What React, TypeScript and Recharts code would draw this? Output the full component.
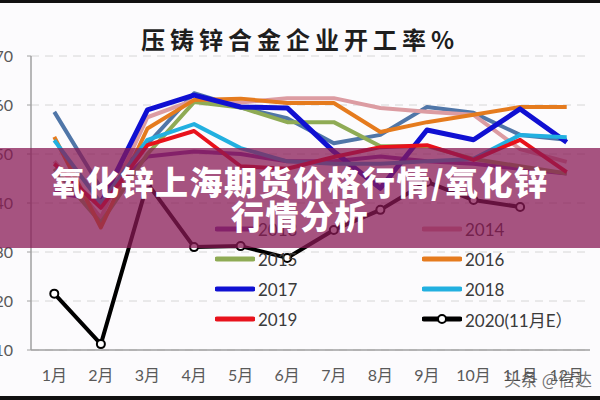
import { CartesianGrid, Line, LineChart, XAxis, YAxis } from "recharts";

const months = ["1月", "2月", "3月", "4月", "5月", "6月", "7月", "8月", "9月", "10月", "11月", "12月"];
const yTicks = [10, 20, 30, 40, 50, 60, 70];
const bandEdges = [1.5, 2.5, 3.5, 4.5, 5.5, 6.5, 7.5, 8.5, 9.5, 10.5, 11.5, 12.5];

const s2012 = [58.6, 43, 52, 62.4, 59.5, 57.3, 52.2, 53.9, 59.6, 58.4, 53.9, 52.9];
const s2013 = [42.2, 40.5, 49.5, 50.5, 50, 48.5, 48.5, 49.5, 48.5, 48, 47, 46];
const s2014 = [48.5, 37, 57.5, 61, 60.5, 61.4, 61.4, 59.4, 58.6, 58, 51, 48.4];
const s2015 = [47, 36, 50, 60.6, 59.5, 56.5, 56.5, 51.6, 51.6, 49, 47.5, 46];
const s2016 = [53.5, 35, 55.2, 61, 61.3, 60.4, 60.4, 54.5, 56.5, 58, 59.6, 59.6];
const s2017 = [null, 40, 59, 62, 59.6, 59.4, 50.5, 43, 54.9, 52.9, 59.2, 52.4];
const s2018 = [52.8, 40, 52.9, 56.1, 51.2, 48.5, 48, 48, 48.5, 49, 53.9, 53.4];
const s2019 = [48, 39, 51.8, 54.7, 47.5, 47, 49.4, 51.4, 51.8, 48.8, 52.9, 46.3];
const s2020 = [21.5, 11.2, 44, 31, 31.2, 28.8, 34.5, 38.6, 44.3, 40.6, 39.2, null];

const series = [
  { key: "y2012", name: "2012", values: s2012, color: "#5076a8", width: 4, legend: false },
  { key: "y2013", name: "2013", values: s2013, color: "#7a3aa8", width: 4, legend: true },
  { key: "y2014", name: "2014", values: s2014, color: "#dc9ca2", width: 4, legend: true },
  { key: "y2015", name: "2015", values: s2015, color: "#8fab55", width: 4, legend: true },
  { key: "y2016", name: "2016", values: s2016, color: "#e57b1e", width: 4, legend: true },
  { key: "y2017", name: "2017", values: s2017, color: "#1010d2", width: 5, legend: true },
  { key: "y2018", name: "2018", values: s2018, color: "#22b0e0", width: 4, legend: true },
  { key: "y2019", name: "2019", values: s2019, color: "#e8121c", width: 4, legend: true },
  { key: "y2020", name: "2020(11月E）", values: s2020, color: "#000000", width: 4, legend: true },
];

const data = months.map((label, i) => {
  const row: Record<string, number | string | null> = { m: i + 1, label };
  series.forEach((s) => {
    row[s.key] = s.values[i];
  });
  return row;
});

const axisFont = "Lato, 'Noto Sans CJK SC', sans-serif";

export default function App() {
  const legendItems = series.filter((s) => s.legend);
  return (
    <div style={{ position: "relative", width: 600, height: 400, background: "#fcfbfd", overflow: "hidden" }}>
      <style>{`body{margin:0}`}</style>
      <div style={{ position: "absolute", left: 0, top: 0, width: 600, height: 3, background: "#111" }} />
      <div
        style={{
          position: "absolute",
          top: 21,
          width: 600,
          textAlign: "center",
          fontFamily: "'Noto Sans CJK SC', sans-serif",
          fontWeight: 700,
          fontSize: 24,
          letterSpacing: 5,
          color: "#1e1e1e",
        }}
      >
        压铸锌合金企业开工率%
      </div>
      <LineChart
        width={600}
        height={400}
        data={data}
        margin={{ top: 56, right: 10, left: 0, bottom: 0 }}
        style={{ position: "absolute", left: 0, top: 0 }}
      >
        <CartesianGrid horizontal vertical={false} stroke="#d6d6d6" strokeDasharray="8 6" />
        <XAxis
          dataKey="m"
          type="number"
          domain={[0.5, 12.5]}
          ticks={[1, 2, 3, 4, 5, 6, 7, 8, 9, 10, 11, 12]}
          tickFormatter={(v) => months[v - 1]}
          tickLine={false}
          tickSize={6}
          tickMargin={14}
          axisLine={{ stroke: "#a0a0a0", strokeWidth: 1.5 }}
          tick={{ fill: "#595959", fontSize: 16, fontFamily: axisFont }}
          height={50}
        />
        <XAxis
          xAxisId="edges"
          dataKey="m"
          type="number"
          domain={[0.5, 12.5]}
          ticks={bandEdges}
          mirror
          tick={false}
          tickSize={6}
          axisLine={false}
          tickLine={{ stroke: "#a0a0a0", strokeWidth: 1.5 }}
          height={0}
        />
        <YAxis
          domain={[10, 70]}
          ticks={yTicks}
          width={31}
          tickSize={4}
          tickMargin={14}
          axisLine={{ stroke: "#a0a0a0", strokeWidth: 1.5 }}
          tickLine={{ stroke: "#a0a0a0" }}
          tick={{ fill: "#595959", fontSize: 16, fontFamily: axisFont }}
        />
        {series.map((s) => (
          <Line
            key={s.key}
            dataKey={s.key}
            name={s.name}
            stroke={s.color}
            strokeWidth={s.width}
            strokeLinejoin="round"
            dot={
              s.key === "y2020"
                ? { r: 4, fill: "#ffffff", stroke: "#000000", strokeWidth: 2 }
                : false
            }
            isAnimationActive={false}
          />
        ))}
      </LineChart>
      {legendItems.map((s, i) => {
        const col = i % 2;
        const row = Math.floor(i / 2);
        const left = col === 0 ? 215 : 422;
        const top = 229 + row * 30;
        return (
          <div
            key={s.key}
            style={{
              position: "absolute",
              left,
              top: top - 11,
              height: 22,
              display: "flex",
              alignItems: "center",
              fontFamily: axisFont,
              fontSize: 17,
              color: "#3a3a3a",
            }}
          >
            <svg width={40} height={12} style={{ marginRight: 3 }}>
              <line x1={2} y1={6} x2={38} y2={6} stroke={s.color} strokeWidth={5} strokeLinecap="round" />
              {s.key === "y2020" && <circle cx={20} cy={6} r={4} fill="#fff" stroke="#000" strokeWidth={2} />}
            </svg>
            {s.name}
          </div>
        );
      })}
      <div
        style={{
          position: "absolute",
          left: 0,
          top: 148,
          width: 600,
          height: 100,
          background: "rgba(136,24,83,0.74)",
          display: "flex",
          flexDirection: "column",
          alignItems: "center",
          justifyContent: "center",
          color: "#ffffff",
          fontFamily: "'Noto Sans CJK SC', sans-serif",
          fontWeight: 900,
          fontSize: 33,
          letterSpacing: 1.5,
          lineHeight: "34px",
        }}
      >
        <div>氧化锌上海期货价格行情/氧化锌</div>
        <div>行情分析</div>
      </div>
      <div
        style={{
          position: "absolute",
          left: 504,
          top: 366,
          fontFamily: "'Noto Sans CJK SC', sans-serif",
          fontSize: 17,
          color: "rgba(70,70,70,0.75)",
        }}
      >
        头条 @信达
      </div>
      <div style={{ position: "absolute", left: 0, top: 396, width: 600, height: 4, background: "#111" }} />
    </div>
  );
}
